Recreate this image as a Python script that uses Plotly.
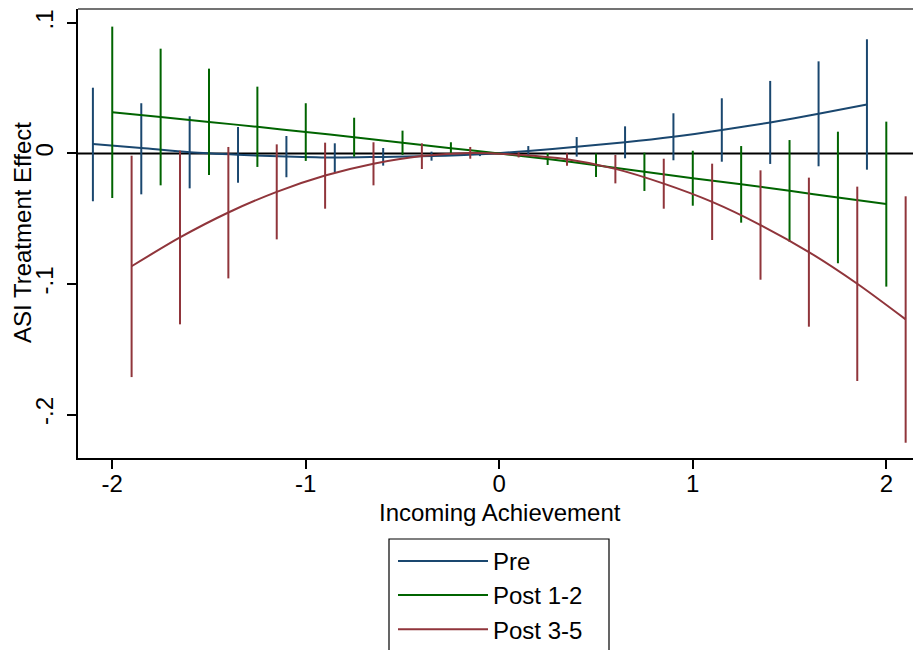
import plotly.graph_objects as go

# ---- data ----
pre_x = [-2.1, -1.85, -1.6, -1.35, -1.1, -0.85, -0.6, -0.35, -0.1, 0.15, 0.4, 0.65, 0.9, 1.15, 1.4, 1.65, 1.9]
pre_est = [0.0072, 0.0042, 0.0009, -0.0010, -0.0023, -0.0031, -0.0026, -0.0020, -0.0006, 0.0020, 0.0051, 0.0086, 0.0128, 0.0180, 0.0238, 0.0304, 0.0376]
pre_lo = [-0.0366, -0.0313, -0.0267, -0.0224, -0.0182, -0.0142, -0.0093, -0.0055, -0.0020, -0.0017, -0.0024, -0.0037, -0.0052, -0.0063, -0.0080, -0.0098, -0.0124]
pre_hi = [0.0504, 0.0385, 0.0285, 0.0203, 0.0134, 0.0078, 0.0042, 0.0014, 0.0008, 0.0057, 0.0126, 0.0208, 0.0308, 0.0423, 0.0556, 0.0706, 0.0875]

p12_x = [-2.0, -1.75, -1.5, -1.25, -1.0, -0.75, -0.5, -0.25, 0.0, 0.25, 0.5, 0.75, 1.0, 1.25, 1.5, 1.75, 2.0]
p12_est = [0.0316, 0.0280, 0.0242, 0.0204, 0.0165, 0.0125, 0.0082, 0.0041, 0.0, -0.0042, -0.0090, -0.0140, -0.0190, -0.0236, -0.0286, -0.0338, -0.0387]
p12_lo = [-0.0341, -0.0244, -0.0165, -0.0103, -0.0057, -0.0024, -0.0011, -0.0004, 0.0, -0.0088, -0.0180, -0.0287, -0.0400, -0.0530, -0.0676, -0.0841, -0.1020]
p12_hi = [0.0972, 0.0803, 0.0650, 0.0512, 0.0385, 0.0274, 0.0175, 0.0086, 0.0, 0.0004, 0.0000, 0.0006, 0.0021, 0.0057, 0.0103, 0.0167, 0.0244]

p35_x = [-1.9, -1.65, -1.4, -1.15, -0.9, -0.65, -0.4, -0.15, 0.1, 0.35, 0.6, 0.85, 1.1, 1.35, 1.6, 1.85, 2.1]
p35_est = [-0.0864, -0.0643, -0.0452, -0.0294, -0.0169, -0.0078, -0.0019, 0.0004, -0.0010, -0.0045, -0.0118, -0.0231, -0.0371, -0.0548, -0.0755, -0.0998, -0.1271]
p35_lo = [-0.1713, -0.1309, -0.0957, -0.0658, -0.0423, -0.0244, -0.0119, -0.0040, -0.0030, -0.0093, -0.0229, -0.0423, -0.0663, -0.0967, -0.1327, -0.1743, -0.2216]
p35_hi = [-0.0017, 0.0021, 0.0050, 0.0070, 0.0083, 0.0086, 0.0078, 0.0050, 0.0010, 0.0002, -0.0011, -0.0040, -0.0078, -0.0129, -0.0185, -0.0254, -0.0328]

x_ticks = [-2, -1, 0, 1, 2]
x_ticklabels = ["-2", "-1", "0", "1", "2"]
y_ticks = [0.1, 0.0, -0.1, -0.2]
y_ticklabels = [".1", "0", "-.1", "-.2"]

series = [
    ("Pre", pre_x, pre_est, pre_lo, pre_hi, "#1a476f"),
    ("Post 1-2", p12_x, p12_est, p12_lo, p12_hi, "#006400"),
    ("Post 3-5", p35_x, p35_est, p35_lo, p35_hi, "#90353b"),
]

FONT = "Liberation Sans, Arial, Helvetica, sans-serif"
FS = 24
W, H = 913, 650
ML, MT, MB = 78, 9, 192
PW, PH = W - ML, H - MT - MB


def px_x(p):
    return (p - ML) / PW


def px_y(p):
    return (H - MB - p) / PH


fig = go.Figure()
for name, xs, est, lo, hi, col in series:
    fig.add_trace(go.Scatter(
        x=xs, y=est, name=name, mode="lines",
        line=dict(color=col, width=2, shape="spline", smoothing=0.8),
        error_y=dict(type="data", symmetric=False,
                     array=[h - e for h, e in zip(hi, est)],
                     arrayminus=[e - l for e, l in zip(est, lo)],
                     color=col, thickness=2, width=0),
    ))

# zero reference line
fig.add_shape(type="line", xref="paper", x0=0, x1=1, yref="y", y0=0, y1=0,
              line=dict(color="black", width=2), layer="below")
# top frame line
fig.add_shape(type="line", xref="paper", x0=0, x1=1, yref="paper", y0=1, y1=1,
              line=dict(color="#444444", width=1.5))
# legend frame
fig.add_shape(type="rect", xref="paper", yref="paper",
              x0=px_x(389), x1=px_x(609), y0=px_y(539), y1=px_y(700),
              line=dict(color="black", width=1.2), fillcolor="rgba(0,0,0,0)")

# axis titles
fig.add_annotation(text="Incoming Achievement", xref="paper", yref="paper",
                   x=px_x(500), y=px_y(512), xanchor="center", yanchor="middle",
                   showarrow=False, font=dict(size=FS))
fig.add_annotation(text="ASI Treatment Effect", xref="paper", yref="paper",
                   x=px_x(22), y=px_y(233), xanchor="center", yanchor="middle",
                   textangle=-90, showarrow=False, font=dict(size=FS))

fig.update_layout(
    width=W, height=H,
    margin=dict(l=ML, r=0, t=MT, b=MB, autoexpand=False),
    paper_bgcolor="white", plot_bgcolor="white",
    font=dict(family=FONT, size=FS, color="black"),
    showlegend=True,
    legend=dict(
        x=px_x(393), xanchor="left", y=-0.18, yanchor="top",
        borderwidth=0, bgcolor="rgba(0,0,0,0)",
        font=dict(size=FS), itemwidth=90, tracegroupgap=0,
    ),
    xaxis=dict(
        range=[-2.177, 2.138], showgrid=False, zeroline=False, automargin=False,
        tickmode="array", tickvals=x_ticks, ticktext=x_ticklabels,
        ticks="outside", ticklen=9, tickwidth=1.5, tickcolor="black",
        showline=True, linecolor="black", linewidth=2,
        ticklabelstandoff=-6, tickfont=dict(size=FS),
    ),
    yaxis=dict(
        range=[-0.2333, 0.1107], showgrid=False, zeroline=False, automargin=False,
        tickmode="array", tickvals=y_ticks, ticktext=y_ticklabels,
        ticks="outside", ticklen=9, tickwidth=1.5, tickcolor="black",
        showline=True, linecolor="black", linewidth=2,
        tickangle=-90, ticklabelstandoff=4, tickfont=dict(size=FS),
    ),
)

fig.write_html("out.html", config={"displayModeBar": False},
               post_script="document.body.style.margin='0';")
